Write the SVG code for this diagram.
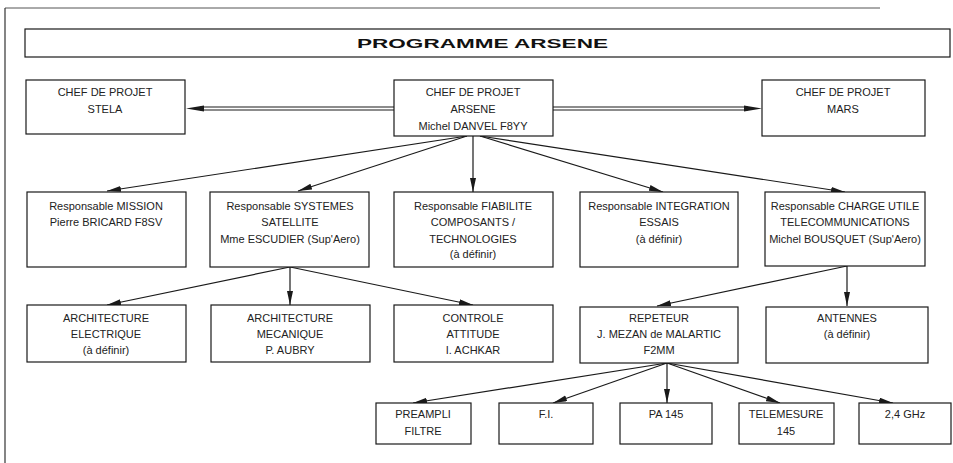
<svg xmlns="http://www.w3.org/2000/svg" width="953" height="463" viewBox="0 0 953 463">
<style>
.box{fill:#fff;stroke:#1a1a1a;stroke-width:1.2}
.t{font-family:"Liberation Sans",Arial,sans-serif;font-size:11px;fill:#222;text-anchor:middle}
.c{fill:none;stroke:#1a1a1a;stroke-width:1.2}
.title{font-family:"Liberation Sans",Arial,sans-serif;font-size:13px;font-weight:bold;fill:#111}
</style>
<defs>
<marker id="ah" markerUnits="userSpaceOnUse" markerWidth="16" markerHeight="7" refX="14" refY="3" orient="auto">
<path d="M0,0 L14,3 L0,6 z" fill="#1a1a1a"/>
</marker>
</defs>
<rect width="953" height="463" fill="#fff"/>
<g id="frame">
<line x1="5" y1="8" x2="880" y2="8" stroke="#555" stroke-width="1"/>
<line x1="5" y1="8" x2="5" y2="463" stroke="#333" stroke-width="1.2"/>
</g>
<g id="title">
<rect class="box" x="25" y="29" width="925" height="28"/>
<text class="title" x="357" y="48" textLength="251" lengthAdjust="spacingAndGlyphs">PROGRAMME ARSENE</text>
</g>
<g id="connectors">
<line class="c" x1="394" y1="107" x2="200" y2="107"/>
<line class="c" x1="394" y1="110" x2="200" y2="110"/>
<polygon points="186,108.5 204,105.5 204,111.5" fill="#1a1a1a"/>
<line class="c" x1="553" y1="107" x2="748" y2="107"/>
<line class="c" x1="553" y1="110" x2="748" y2="110"/>
<polygon points="762,108.5 744,105.5 744,111.5" fill="#1a1a1a"/>
<line class="c" x1="467" y1="136" x2="107" y2="191" marker-end="url(#ah)"/>
<line class="c" x1="467" y1="136" x2="298" y2="191" marker-end="url(#ah)"/>
<line class="c" x1="473" y1="136" x2="473" y2="192" marker-end="url(#ah)"/>
<line class="c" x1="480" y1="136" x2="663" y2="192" marker-end="url(#ah)"/>
<line class="c" x1="480" y1="136" x2="845" y2="192" marker-end="url(#ah)"/>
<line class="c" x1="290" y1="267" x2="107" y2="305" marker-end="url(#ah)"/>
<line class="c" x1="290" y1="267" x2="290" y2="305" marker-end="url(#ah)"/>
<line class="c" x1="290" y1="267" x2="473" y2="305" marker-end="url(#ah)"/>
<line class="c" x1="847" y1="266" x2="657" y2="306" marker-end="url(#ah)"/>
<line class="c" x1="847" y1="266" x2="847" y2="306" marker-end="url(#ah)"/>
<line class="c" x1="667" y1="363" x2="413" y2="403" marker-end="url(#ah)"/>
<line class="c" x1="667" y1="363" x2="553" y2="403" marker-end="url(#ah)"/>
<line class="c" x1="667" y1="363" x2="667" y2="403" marker-end="url(#ah)"/>
<line class="c" x1="667" y1="363" x2="780" y2="403" marker-end="url(#ah)"/>
<line class="c" x1="667" y1="363" x2="893" y2="403" marker-end="url(#ah)"/>
</g>
<g id="stela">
<rect class="box" x="26" y="80" width="159" height="54"/>
<text class="t" x="105" y="96">CHEF DE PROJET</text>
<text class="t" x="105" y="113">STELA</text>
</g>
<g id="arsene">
<rect class="box" x="394" y="80" width="159" height="56"/>
<text class="t" x="473" y="96">CHEF DE PROJET</text>
<text class="t" x="473" y="113">ARSENE</text>
<text class="t" x="473" y="130">Michel DANVEL F8YY</text>
</g>
<g id="mars">
<rect class="box" x="762" y="80" width="163" height="56"/>
<text class="t" x="843" y="96">CHEF DE PROJET</text>
<text class="t" x="843" y="113">MARS</text>
</g>
<g id="mission">
<rect class="box" x="27" y="192" width="159" height="75"/>
<text class="t" x="106" y="210">Responsable MISSION</text>
<text class="t" x="106" y="226">Pierre BRICARD F8SV</text>
</g>
<g id="systemes">
<rect class="box" x="210" y="192" width="159" height="75"/>
<text class="t" x="290" y="210">Responsable SYSTEMES</text>
<text class="t" x="290" y="226">SATELLITE</text>
<text class="t" x="290" y="243">Mme ESCUDIER (Sup'Aero)</text>
</g>
<g id="fiabilite">
<rect class="box" x="394" y="192" width="159" height="75"/>
<text class="t" x="473" y="210">Responsable FIABILITE</text>
<text class="t" x="473" y="226">COMPOSANTS /</text>
<text class="t" x="473" y="243">TECHNOLOGIES</text>
<text class="t" x="473" y="258">(à définir)</text>
</g>
<g id="integration">
<rect class="box" x="580" y="192" width="158" height="75"/>
<text class="t" x="659" y="210">Responsable INTEGRATION</text>
<text class="t" x="659" y="226">ESSAIS</text>
<text class="t" x="659" y="243">(à définir)</text>
</g>
<g id="charge">
<rect class="box" x="765" y="192" width="160" height="74"/>
<text class="t" x="845" y="210">Responsable CHARGE UTILE</text>
<text class="t" x="845" y="226">TELECOMMUNICATIONS</text>
<text class="t" x="845" y="243">Michel BOUSQUET (Sup'Aero)</text>
</g>
<g id="arch-elec">
<rect class="box" x="27" y="305" width="159" height="57"/>
<text class="t" x="106" y="322">ARCHITECTURE</text>
<text class="t" x="106" y="338">ELECTRIQUE</text>
<text class="t" x="106" y="354">(à définir)</text>
</g>
<g id="arch-meca">
<rect class="box" x="211" y="305" width="159" height="57"/>
<text class="t" x="290" y="322">ARCHITECTURE</text>
<text class="t" x="290" y="338">MECANIQUE</text>
<text class="t" x="290" y="354">P. AUBRY</text>
</g>
<g id="controle">
<rect class="box" x="394" y="305" width="159" height="57"/>
<text class="t" x="473" y="322">CONTROLE</text>
<text class="t" x="473" y="338">ATTITUDE</text>
<text class="t" x="473" y="354">I. ACHKAR</text>
</g>
<g id="repeteur">
<rect class="box" x="580" y="307" width="158" height="56"/>
<text class="t" x="659" y="322">REPETEUR</text>
<text class="t" x="659" y="338">J. MEZAN de MALARTIC</text>
<text class="t" x="659" y="354">F2MM</text>
</g>
<g id="antennes">
<rect class="box" x="766" y="307" width="162" height="56"/>
<text class="t" x="847" y="322">ANTENNES</text>
<text class="t" x="847" y="338">(à définir)</text>
</g>
<g id="preampli">
<rect class="box" x="376" y="403" width="95" height="41"/>
<text class="t" x="423" y="418">PREAMPLI</text>
<text class="t" x="423" y="435">FILTRE</text>
</g>
<g id="fi">
<rect class="box" x="499" y="403" width="94" height="41"/>
<text class="t" x="546" y="418">F.I.</text>
</g>
<g id="pa145">
<rect class="box" x="620" y="403" width="92" height="41"/>
<text class="t" x="666" y="418">PA 145</text>
</g>
<g id="telemesure">
<rect class="box" x="739" y="403" width="95" height="41"/>
<text class="t" x="786" y="418">TELEMESURE</text>
<text class="t" x="786" y="435">145</text>
</g>
<g id="ghz">
<rect class="box" x="859" y="403" width="92" height="41"/>
<text class="t" x="905" y="418">2,4 GHz</text>
</g>
</svg>
